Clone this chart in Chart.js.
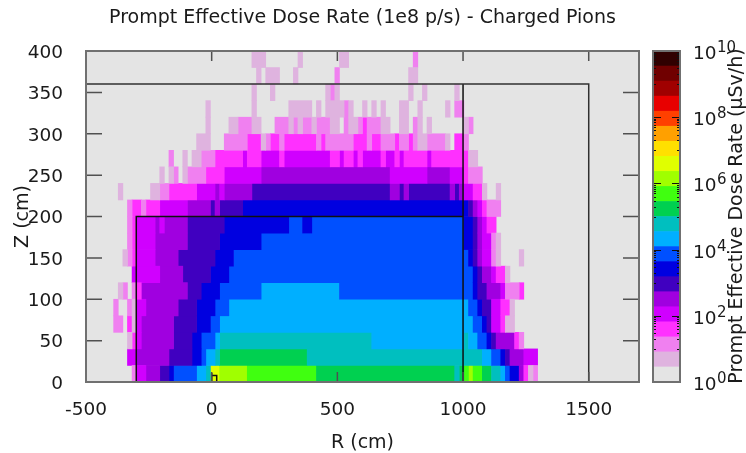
<!DOCTYPE html>
<html>
<head>
<meta charset="utf-8">
<script src="https://cdn.jsdelivr.net/npm/chart.js@4"></script>
<style>
    html, body { margin: 0; padding: 0; background: #fff; }
    #wrap { position: relative; width: 746px; height: 453px; overflow: hidden; }
    #mapChart { position: absolute; left: 0; top: 0; }
    #barChart { position: absolute; left: 640px; top: 0; }
</style>
</head>
<body>
<div id="wrap">
    <canvas id="mapChart" width="726" height="453"></canvas>
    <canvas id="barChart" width="106" height="453"></canvas>
</div>
<script>
// =========================
// DATA
// =========================
const xTicks = [-500, 0, 500, 1000, 1500];
const yTicks = [0, 50, 100, 150, 200, 250, 300, 350, 400];
const barExponents = [0, 2, 4, 6, 8, 10];

const rMin = -500;
const binCm = 2200 / 120;
const rowCm = 20;

// dose band colours, lowest first. band 0 is the plot background
const bandColors = [
    "#e4e4e4", "#dfb3df", "#f080f0", "#ff30ff", "#d000ff", "#a000e0",
    "#4000c0", "#0000e0", "#0050ff", "#00afff", "#00bfbf", "#00d050",
    "#40ff10", "#a0ff00", "#e0ff00", "#ffe000", "#ffa000", "#ff4000",
    "#e80000", "#a00000", "#700000", "#300000"
];

// one list per Z row: [first bin, end bin, dose band]
const row0 = [[10,11,2],[11,13,4],[13,16,5],[16,18,6],[18,19,7],[19,24,8],[24,26,9],[26,27,10],[27,29,14],[29,35,13],[35,50,12],[50,80,11],[80,81,10],[81,82,11],[82,83,12],[83,84,13],[84,86,12],[86,88,11],[88,90,10],[90,91,9],[91,92,8],[92,94,7],[94,95,5],[95,96,3],[96,97,1],[97,98,2]];
const row1 = [[9,11,4],[11,18,5],[18,23,6],[23,25,7],[25,26,8],[26,28,9],[28,29,10],[29,48,11],[48,86,10],[86,88,9],[88,90,8],[90,91,7],[91,92,6],[92,95,5],[95,98,4]];
const row2 = [[9,10,1],[10,11,3],[11,12,4],[12,19,5],[19,23,6],[23,25,7],[25,28,8],[28,29,9],[29,62,10],[62,82,9],[82,83,10],[83,85,9],[85,87,8],[87,88,7],[88,89,6],[89,93,5],[93,94,3],[94,95,2]];
const row3 = [[6,8,2],[9,10,3],[10,11,1],[11,12,4],[12,19,5],[19,24,6],[24,27,7],[27,29,8],[29,84,9],[84,86,8],[86,87,7],[87,88,6],[88,90,4],[90,91,3],[91,93,1]];
const row4 = [[6,7,2],[9,10,2],[10,11,1],[11,13,4],[13,20,5],[20,24,6],[24,28,7],[28,31,8],[31,83,9],[83,85,8],[85,86,7],[86,88,6],[88,90,4],[90,92,3],[92,93,1]];
const row5 = [[7,8,1],[8,9,2],[10,11,2],[11,12,3],[12,22,5],[22,25,6],[25,29,7],[29,38,8],[38,55,9],[55,84,8],[84,85,7],[85,87,6],[87,90,5],[90,91,4],[91,94,2],[94,95,3]];
const row6 = [[10,16,4],[16,21,5],[21,27,6],[27,31,7],[31,84,8],[84,85,7],[85,86,6],[86,88,5],[88,89,4],[89,91,3],[91,92,1]];
const row7 = [[8,9,1],[9,10,2],[10,11,3],[11,15,4],[15,20,5],[20,28,6],[28,32,7],[32,83,8],[83,84,7],[84,85,6],[85,86,5],[86,88,4],[88,89,2],[89,90,1],[94,95,1]];
const row8 = [[9,10,2],[10,11,3],[11,15,4],[15,22,5],[22,29,6],[29,38,7],[38,82,8],[82,84,7],[84,85,6],[85,86,5],[86,88,4],[88,89,2],[89,90,1]];
const row9 = [[9,10,2],[10,11,3],[11,15,4],[15,16,5],[16,17,4],[17,22,5],[22,30,6],[30,44,7],[44,47,8],[47,49,7],[49,82,8],[82,84,7],[84,85,6],[85,86,5],[86,87,4],[87,89,3]];
const row10 = [[9,10,2],[10,12,3],[12,13,2],[13,16,3],[16,22,4],[22,27,5],[27,28,6],[28,29,5],[29,34,6],[34,83,7],[83,84,6],[84,85,5],[85,86,4],[86,87,3],[87,90,2]];
const row11 = [[7,8,1],[14,16,1],[16,18,2],[18,24,3],[24,28,4],[28,29,5],[29,30,4],[30,36,5],[36,66,6],[66,68,5],[68,69,6],[69,70,5],[70,79,6],[79,80,5],[80,81,6],[81,82,5],[82,84,4],[84,86,3],[86,87,1],[89,90,1]];
const row12 = [[16,17,1],[18,19,1],[19,20,2],[21,22,1],[22,26,2],[26,30,3],[30,38,4],[38,66,5],[66,74,4],[74,79,5],[79,82,4],[82,83,3],[83,86,2]];
const row13 = [[18,19,2],[21,22,1],[23,25,1],[25,28,2],[28,34,3],[34,35,4],[35,38,3],[38,42,4],[42,43,3],[43,53,4],[53,55,3],[55,56,4],[56,58,3],[58,59,4],[59,60,3],[60,64,4],[64,65,3],[65,67,4],[67,68,3],[68,69,4],[69,74,3],[74,75,4],[75,83,3],[83,85,1]];
const row14 = [[24,27,1],[30,35,2],[35,38,3],[38,39,1],[39,40,2],[40,42,3],[42,43,2],[43,50,3],[50,51,2],[51,52,3],[52,58,2],[58,61,3],[61,62,2],[62,64,3],[64,67,2],[67,68,3],[68,70,2],[70,71,3],[71,72,2],[72,74,1],[74,78,2],[78,79,1],[80,82,3],[82,83,2]];
const row15 = [[26,27,1],[31,33,1],[33,36,2],[36,38,1],[41,44,2],[44,45,1],[45,46,2],[46,47,1],[47,49,2],[49,50,1],[50,53,2],[53,55,1],[56,57,2],[57,59,1],[59,60,2],[60,61,3],[61,64,2],[64,66,1],[68,70,1],[71,72,2],[72,73,1],[74,75,1],[82,83,1],[83,84,2]];
const row16 = [[26,27,1],[36,37,1],[44,49,1],[50,51,1],[52,56,1],[56,57,2],[57,58,1],[60,61,1],[62,63,1],[64,65,1],[68,70,1],[72,73,1],[78,79,1],[80,82,2]];
const row17 = [[36,37,1],[40,41,1],[52,53,1],[53,54,2],[54,55,1],[70,71,1],[73,74,1],[80,81,1]];
const row18 = [[37,38,1],[39,42,1],[45,46,1],[54,55,2],[70,72,1]];
const row19 = [[36,39,1],[46,47,1],[55,57,1],[71,72,2]];
const rows = [row0, row1, row2, row3, row4, row5, row6, row7, row8, row9, row10, row11, row12, row13, row14, row15, row16, row17, row18, row19];

// detector outlines, in cm
const outerLine = [[-500, 360], [1500, 360], [1500, 0]];
const hallLine = [[-300, 0], [-300, 200], [1000, 200], [1000, 360], [1000, 0]];
const targetLine = [[0, 11], [0, 0]];
const targetCap = [[0, 8], [20, 8], [20, 0]];

// =========================
// MAIN MAP
// =========================
const FONT = "'DejaVu Sans', sans-serif";
const TEXT = "#1a1a1a";

// one floating-bar dataset per dose band
const mapDatasets = [];
for (let b = 1; b < bandColors.length; b++) {
    let cells = [];
    rows.forEach((runs, r) => {
        runs.forEach(run => {
            if (run[2] === b) {
                cells.push({
                    x: [rMin + run[0] * binCm, rMin + run[1] * binCm],
                    y: (r + 0.5) * rowCm
                });
            }
        });
    });
    if (cells.length) {
        mapDatasets.push({
            type: "bar",
            indexAxis: "y",
            data: cells,
            backgroundColor: bandColors[b],
            grouped: false,
            barPercentage: 1,
            categoryPercentage: 1,
            borderWidth: 0,
            order: 2
        });
    }
}

function lineDataset(points, color) {
    return {
        type: "scatter",
        data: points.map(p => ({ x: p[0], y: p[1] })),
        showLine: true,
        pointRadius: 0,
        borderColor: color,
        borderWidth: 1.5,
        order: 1
    };
}
mapDatasets.push(lineDataset(outerLine, "#303030"));
mapDatasets.push(lineDataset(hallLine, "#101010"));
mapDatasets.push(lineDataset(targetLine, "#101010"));
mapDatasets.push(lineDataset(targetCap, "#101010"));

// inward ticks on all four sides plus the grey frame
const frameTicks = {
    id: "frameTicks",
    afterDatasetsDraw(chart) {
        const { ctx, chartArea: a, scales } = chart;
        ctx.save();
        ctx.strokeStyle = "#505050";
        ctx.lineWidth = 1.5;
        ctx.beginPath();
        xTicks.forEach(v => {
            const px = scales.x.getPixelForValue(v);
            ctx.moveTo(px, a.bottom); ctx.lineTo(px, a.bottom - 10);
            ctx.moveTo(px, a.top); ctx.lineTo(px, a.top + 10);
        });
        yTicks.forEach(v => {
            const py = scales.y.getPixelForValue(v);
            ctx.moveTo(a.left, py); ctx.lineTo(a.left + 16, py);
            ctx.moveTo(a.right, py); ctx.lineTo(a.right - 16, py);
        });
        ctx.stroke();
        ctx.strokeStyle = "#707070";
        ctx.lineWidth = 2;
        ctx.strokeRect(a.left, a.top, a.right - a.left, a.bottom - a.top);
        ctx.restore();
    }
};

const plotBackground = {
    id: "plotBackground",
    // title centres over the plot, not over the whole canvas
    afterLayout(chart) {
        chart.titleBlock.left = chart.chartArea.left;
        chart.titleBlock.right = chart.chartArea.right;
    },
    beforeDraw(chart) {
        const { ctx, chartArea: a } = chart;
        ctx.fillStyle = bandColors[0];
        ctx.fillRect(a.left, a.top, a.right - a.left, a.bottom - a.top);
    }
};

new Chart(document.getElementById("mapChart"), {
    type: "bar",
    data: { datasets: mapDatasets },
    options: {
        responsive: false,
        animation: false,
        layout: { padding: { left: 0, right: 87, top: 0, bottom: 0 } },
        plugins: {
            legend: { display: false },
            tooltip: { enabled: false },
            title: {
                display: true,
                text: "Prompt Effective Dose Rate (1e8 p/s) - Charged Pions",
                color: TEXT,
                font: { family: FONT, size: 19, weight: "normal" },
                padding: { top: 7, bottom: 21.2 }
            }
        },
        scales: {
            x: {
                type: "linear",
                min: -500,
                max: 1700,
                offset: false,
                grid: { display: false, drawTicks: false },
                border: { display: false },
                afterBuildTicks: s => { s.ticks = xTicks.map(v => ({ value: v })); },
                afterFit: s => { s.height = 71; },
                ticks: { color: TEXT, font: { family: FONT, size: 18.5 }, padding: 17, maxRotation: 0, autoSkip: false, callback: v => String(v) },
                title: { display: true, text: "R (cm)", color: TEXT, font: { family: FONT, size: 19 }, padding: { top: 0, bottom: -1.5 } }
            },
            y: {
                type: "linear",
                min: 0,
                max: 400,
                offset: false,
                grid: { display: false, drawTicks: false },
                border: { display: false },
                afterBuildTicks: s => { s.ticks = yTicks.map(v => ({ value: v })); },
                afterFit: s => { s.width = 86; },
                ticks: { color: TEXT, font: { family: FONT, size: 18.5 }, padding: 23, labelOffset: 2, autoSkip: false, callback: v => String(v) },
                title: { display: true, text: "Z (cm)", color: TEXT, font: { family: FONT, size: 19 }, padding: { top: 11.4, bottom: 0 } }
            }
        }
    },
    plugins: [plotBackground, frameTicks]
});

// =========================
// COLOUR BAR
// =========================
const bandEdges = bandColors.map((c, i) => Math.pow(10, i * 10 / bandColors.length));
const barDatasets = bandColors.map((c, i) => ({
    data: [[bandEdges[i], i + 1 < bandEdges.length ? bandEdges[i + 1] : 1e10]],
    backgroundColor: c,
    grouped: false,
    barPercentage: 1,
    categoryPercentage: 1,
    borderWidth: 0
}));

const barDecor = {
    id: "barDecor",
    afterDatasetsDraw(chart) {
        const { ctx, chartArea: a, scales } = chart;
        const y = scales.y;
        ctx.save();

        // log ticks inside the bar, both sides
        ctx.strokeStyle = "#101010";
        ctx.lineWidth = 1;
        ctx.beginPath();
        barExponents.forEach(e => {
            if (e === 10) return;
            for (let k = 1; k <= 9; k++) {
                const py = Math.round(y.getPixelForValue(k * Math.pow(10, e + 1))) + 0.5;
                ctx.moveTo(a.left, py); ctx.lineTo(a.left + 3, py);
                ctx.moveTo(a.right, py); ctx.lineTo(a.right - 3, py);
            }
            const major = Math.round(y.getPixelForValue(Math.pow(10, e + 2))) + 0.5;
            ctx.moveTo(a.left, major); ctx.lineTo(a.left + 8, major);
            ctx.moveTo(a.right, major); ctx.lineTo(a.right - 8, major);
        });
        ctx.stroke();

        ctx.strokeStyle = "#707070";
        ctx.lineWidth = 2;
        ctx.strokeRect(a.left, a.top, a.right - a.left, a.bottom - a.top);

        // tick labels with raised exponents
        ctx.fillStyle = TEXT;
        ctx.textBaseline = "alphabetic";
        ctx.textAlign = "left";
        barExponents.forEach(e => {
            const py = y.getPixelForValue(Math.pow(10, e));
            ctx.font = "18.5px " + FONT;
            ctx.fillText("10", a.right + 13, py + 8);
            ctx.font = "15px " + FONT;
            ctx.fillText(String(e), a.right + 37, py + 1);
        });

        // rotated bar title
        ctx.translate(102, 216);
        ctx.rotate(-Math.PI / 2);
        ctx.textAlign = "center";
        ctx.font = "19px " + FONT;
        ctx.fillText("Prompt Effective Dose Rate (µSv/h)", 0, 0);
        ctx.restore();
    }
};

new Chart(document.getElementById("barChart"), {
    type: "bar",
    data: { labels: [""], datasets: barDatasets },
    options: {
        responsive: false,
        animation: false,
        layout: { padding: { left: 13, right: 66, top: 51, bottom: 71 } },
        plugins: { legend: { display: false }, tooltip: { enabled: false } },
        scales: {
            x: { display: false },
            y: {
                type: "logarithmic",
                min: 1,
                max: 1e10,
                position: "right",
                grid: { display: false },
                border: { display: false },
                ticks: { display: false },
                afterFit: s => { s.width = 0; }
            }
        }
    },
    plugins: [barDecor]
});
</script>
</body>
</html>
